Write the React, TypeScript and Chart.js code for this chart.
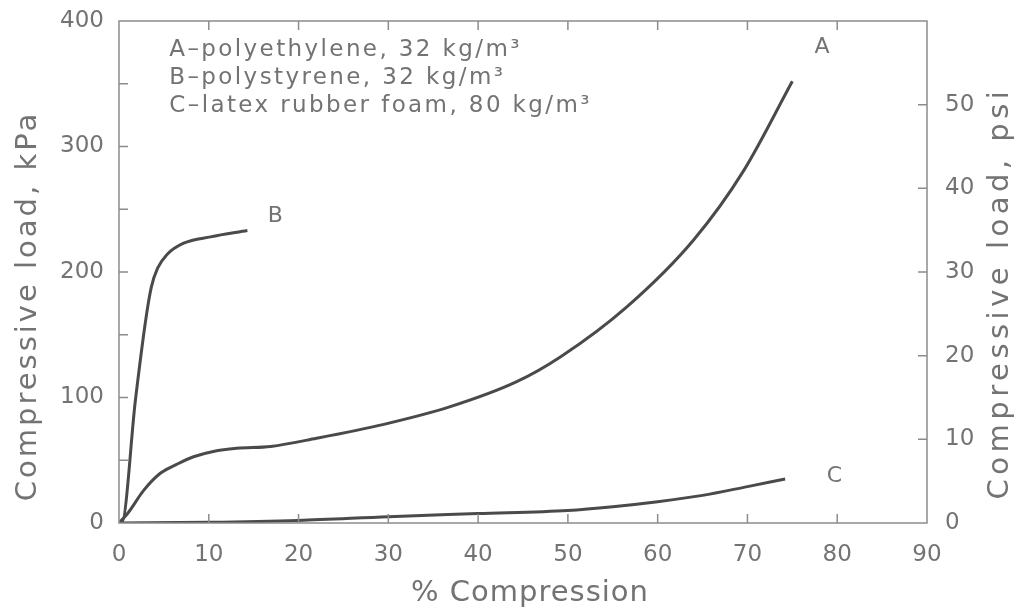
import React, { useEffect, useRef } from "react";
import { Chart, registerables } from "chart.js";

Chart.register(...registerables);

// % compression (x) and compressive load in kPa (y)
const seriesA_x = [0, 1, 2.75, 4.6, 6.5, 8.3, 10.5, 13.1, 16.9, 22, 29.5, 36.9, 44.3, 49.2, 56.6, 64, 69.6, 75];
const seriesA_y = [0, 8, 26, 39.6, 47, 52.8, 57, 59.5, 61, 67.5, 78.6, 92.7, 112.6, 132.5, 172.4, 225.5, 281, 352];

const seriesB_x = [0, 0.3, 1.83, 3.0, 3.6, 4.3, 5.35, 7.2, 10.2, 14.3];
const seriesB_y = [0, 0, 98, 163, 188, 203, 214, 223, 228, 233];

const seriesC_x = [0, 10, 20, 30, 40, 50, 55, 60, 65, 70, 74.2];
const seriesC_y = [0, 0.5, 2, 5, 7.5, 10, 13, 17, 22, 29, 35];

const curveLabels = ["A", "B", "C"];
const curveLabelX = [78.3, 17.4, 79.7];
const curveLabelY = [379, 244, 37];

const legendLines = [
  "A\u2013polyethylene, 32 kg/m\u00B3",
  "B\u2013polystyrene, 32 kg/m\u00B3",
  "C\u2013latex rubber foam, 80 kg/m\u00B3",
];
const legendX = 5.6;
const legendY = [377, 354.6, 332];

const xTitle = "% Compression";
const yLeftTitle = "Compressive load, kPa";
const yRightTitle = "Compressive load, psi";

const xMin = 0, xMax = 90, xStep = 10;
const kpaMin = 0, kpaMax = 400, kpaStep = 50, kpaLabelStep = 100;
const psiMin = 0, psiMax = 60, psiStep = 10, psiLabelMax = 50;

const FONT = "'DejaVu Sans', sans-serif";
const TEXT = "#737373";
const LINE = "#4a4a4a";
const FRAME = "#8c8c8c";

const toPts = (xs: number[], ys: number[]) => xs.map((x, i) => ({ x, y: ys[i] }));

const decor = {
  id: "decor",
  afterDraw(chart: any) {
    const { ctx, chartArea: a, scales } = chart;
    const xs = scales.x, yl = scales.y, yr = scales.y2;
    ctx.save();
    ctx.strokeStyle = FRAME;
    ctx.lineWidth = 1.5;
    ctx.strokeRect(a.left, a.top, a.right - a.left, a.bottom - a.top);
    const tl = 9;
    ctx.beginPath();
    for (let v = xMin + xStep; v < xMax; v += xStep) {
      const px = xs.getPixelForValue(v);
      ctx.moveTo(px, a.bottom); ctx.lineTo(px, a.bottom - tl);
      ctx.moveTo(px, a.top); ctx.lineTo(px, a.top + tl);
    }
    for (let v = kpaMin + kpaStep; v < kpaMax; v += kpaStep) {
      const py = yl.getPixelForValue(v);
      ctx.moveTo(a.left, py); ctx.lineTo(a.left + tl, py);
    }
    for (let v = psiMin + psiStep; v <= psiLabelMax; v += psiStep) {
      const py = yr.getPixelForValue(v);
      ctx.moveTo(a.right, py); ctx.lineTo(a.right - tl, py);
    }
    ctx.stroke();

    ctx.fillStyle = TEXT;
    // curve labels
    ctx.font = `22px ${FONT}`;
    ctx.textAlign = "center";
    ctx.textBaseline = "middle";
    curveLabels.forEach((t, i) => {
      ctx.fillText(t, xs.getPixelForValue(curveLabelX[i]), yl.getPixelForValue(curveLabelY[i]));
    });
    // legend text
    ctx.textAlign = "left";
    ctx.font = `23px ${FONT}`;
    (ctx as any).letterSpacing = "2.4px";
    legendLines.forEach((t, i) => {
      ctx.fillText(t, xs.getPixelForValue(legendX), yl.getPixelForValue(legendY[i]));
    });
    // axis titles
    ctx.font = `29px ${FONT}`;
    ctx.textAlign = "center";
    (ctx as any).letterSpacing = "1px";
    ctx.fillText(xTitle, 530, 593);
    ctx.save();
    (ctx as any).letterSpacing = "3px";
    ctx.translate(28, 306);
    ctx.rotate(-Math.PI / 2);
    ctx.fillText(yLeftTitle, 0, 0);
    ctx.restore();
    ctx.save();
    (ctx as any).letterSpacing = "4.5px";
    ctx.translate(1000, 293);
    ctx.rotate(-Math.PI / 2);
    ctx.fillText(yRightTitle, 0, 0);
    ctx.restore();
    ctx.restore();
  },
};

const noPad = (s: any) => {
  s.paddingTop = 0;
  s.paddingBottom = 0;
  s.paddingLeft = 0;
  s.paddingRight = 0;
};

export default function App() {
  const ref = useRef<HTMLCanvasElement>(null);
  useEffect(() => {
    if (!ref.current) return;
    const ds = (data: any) => ({
      data,
      borderColor: LINE,
      borderWidth: 3,
      pointRadius: 0,
      fill: false,
      cubicInterpolationMode: "monotone" as const,
      yAxisID: "y",
    });
    const chart = new Chart(ref.current, {
      type: "line",
      data: {
        datasets: [
          ds(toPts(seriesA_x, seriesA_y)),
          ds(toPts(seriesB_x, seriesB_y)),
          ds(toPts(seriesC_x, seriesC_y)),
        ],
      },
      options: {
        responsive: false,
        animation: false,
        layout: { padding: { top: 21, left: 0, right: 0, bottom: 0 } },
        plugins: { legend: { display: false }, tooltip: { enabled: false } },
        scales: {
          x: {
            type: "linear",
            min: xMin,
            max: xMax,
            grid: { display: false, drawTicks: false },
            border: { display: false },
            ticks: { stepSize: xStep, color: TEXT, font: { family: FONT, size: 23 }, padding: 18 },
            afterFit: (s: any) => { s.height = 88; noPad(s); },
          },
          y: {
            type: "linear",
            position: "left",
            min: kpaMin,
            max: kpaMax,
            grid: { display: false, drawTicks: false },
            border: { display: false },
            ticks: {
              stepSize: kpaStep,
              color: TEXT,
              font: { family: FONT, size: 23 },
              padding: 15,
              callback: (v: any) => (Number(v) % kpaLabelStep === 0 ? String(v) : ""),
            },
            afterFit: (s: any) => { s.width = 119; noPad(s); },
          },
          y2: {
            type: "linear",
            position: "right",
            min: psiMin,
            max: psiMax,
            grid: { display: false, drawTicks: false },
            border: { display: false },
            ticks: {
              stepSize: psiStep,
              color: TEXT,
              font: { family: FONT, size: 23 },
              padding: 18,
              callback: (v: any) => (Number(v) <= psiLabelMax ? String(v) : ""),
            },
            afterFit: (s: any) => { s.width = 93; noPad(s); },
          },
        },
      },
      plugins: [decor],
    });
    return () => chart.destroy();
  }, []);
  return (
    <div style={{ position: "absolute", left: 0, top: 0, width: 1020, height: 611, background: "#fff" }}>
      <canvas ref={ref} width={1020} height={611} style={{ display: "block" }} />
    </div>
  );
}
